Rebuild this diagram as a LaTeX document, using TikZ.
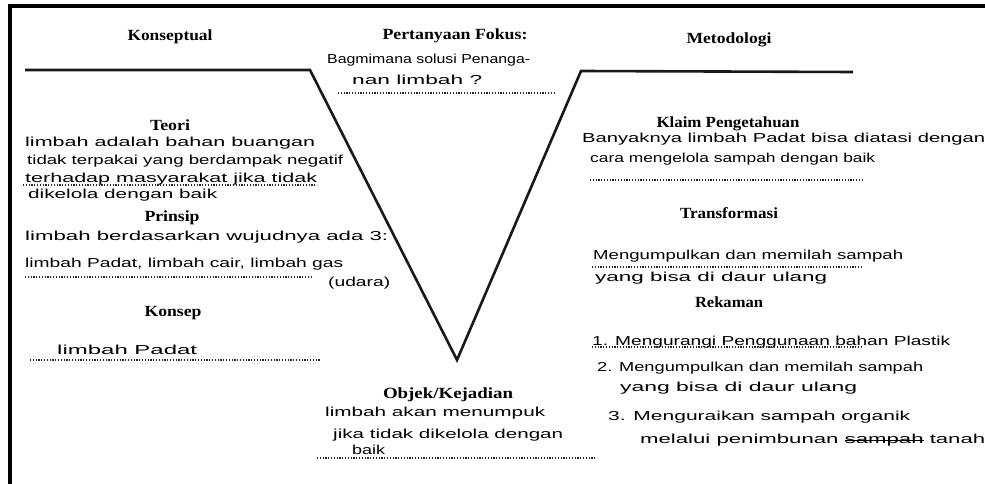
\documentclass[tikz,border=0pt]{standalone}
\usepackage{fontspec}
\usepackage{graphicx}
\setmainfont{Liberation Serif}
\newfontfamily\handfont{Liberation Sans}
% a handwritten line, stretched to a given width
\newcommand\hw[2]{\resizebox{#1pt}{\height}{\handfont\fontsize{13}{15}\selectfont #2}}
% a bold heading, stretched to a given width
\newcommand\hd[2]{\resizebox{#1pt}{\height}{\bfseries\fontsize{15.5}{17}\selectfont #2}}
% a crossed-out word
\newsavebox\strikebox
\newcommand\crossout[1]{\sbox\strikebox{#1}\rlap{\raisebox{0.3ex}{\rule{\wd\strikebox}{0.9pt}}}\usebox\strikebox}
\begin{document}
\begin{tikzpicture}[x=1pt,y=-1pt,
  heading/.style={inner sep=0pt,anchor=center},
  handline/.style={inner sep=0pt,anchor=west},
  dots/.style={line width=1.6pt,dash pattern=on 1.2pt off 1.6pt,black!85},
  vline/.style={line width=2.6pt,line join=miter,black!90}]
\useasboundingbox (0,0) rectangle (985,484);
\fill[white] (0,0) rectangle (985,484);
% frame
\draw[line width=4pt] (10,484) -- (10,6) -- (985,6);

% V outline
\coordinate (vl) at (25,70);
\coordinate (vlc) at (310,70);
\coordinate (vb) at (457,360);
\coordinate (vrc) at (581,71);
\coordinate (vr) at (853,72);
\draw[vline] (vl) -- (vlc) -- (vb) -- (vrc) -- (vr);

% top headings
\node[heading] (konseptual) at (170,37) {\hd{85}{Konseptual}};
\node[heading] (fokus) at (455,36) {\hd{145}{Pertanyaan Fokus:}};
\node[heading] (metodologi) at (729,40) {\hd{85}{Metodologi}};

% focus question
\node[handline] (fq1) at (327,60) {\hw{203}{Bagmimana solusi Penanga-}};
\node[handline] (fq2) at (352,80) {\hw{130}{nan limbah ?}};
\draw[dots] (338,93) -- (555,93);

% left side
\node[heading] (teori) at (170,125) {\hd{40}{Teori}};
\node[handline] (teori1) at (25,143) {\hw{290}{limbah adalah bahan buangan}};
\node[handline] (teori2) at (27,161) {\hw{316}{tidak terpakai yang berdampak negatif}};
\node[handline] (teori3) at (25,179) {\hw{292}{terhadap masyarakat jika tidak}};
\node[handline] (teori4) at (28,195) {\hw{189}{dikelola dengan baik}};
\draw[dots] (23,185) -- (317,185);

\node[heading] (prinsip) at (172,218) {\hd{55}{Prinsip}};
\node[handline] (prinsip1) at (25,237) {\hw{363}{limbah berdasarkan wujudnya ada 3:}};
\node[handline] (prinsip2) at (25,264) {\hw{318}{limbah Padat, limbah cair, limbah gas}};
\node[handline] (udara) at (328,283) {\hw{62}{(udara)}};
\draw[dots] (25,277) -- (312,277);

\node[heading] (konsep) at (173,313) {\hd{57}{Konsep}};
\node[handline] (konsep1) at (57,350) {\hw{140}{limbah Padat}};
\draw[dots] (30,360) -- (320,360);

% bottom of the V
\node[heading] (objek) at (448,395) {\hd{130}{Objek/Kejadian}};
\node[handline] (objek1) at (325,413) {\hw{220}{limbah akan menumpuk}};
\node[handline] (objek2) at (333,435) {\hw{230}{jika tidak dikelola dengan}};
\node[handline] (objek3) at (352,450) {\hw{33}{baik}};
\draw[dots] (317,458) -- (597,458);

% right side
\node[heading] (klaim) at (728,124) {\hd{143}{Klaim Pengetahuan}};
\node[handline] (klaim1) at (582,139) {\hw{403}{Banyaknya limbah Padat bisa diatasi dengan}};
\node[handline] (klaim2) at (590,159) {\hw{285}{cara mengelola sampah dengan baik}};
\draw[dots] (590,180) -- (862,180);

\node[heading] (transformasi) at (729,213) {\hd{98}{Transformasi}};
\node[handline] (trans1) at (593,256) {\hw{310}{Mengumpulkan dan memilah sampah}};
\node[handline] (trans2) at (595,278) {\hw{232}{yang bisa di daur ulang}};
\draw[dots] (592,267) -- (862,267);

\node[heading] (rekaman) at (729,302) {\hd{68}{Rekaman}};
\node[handline] (rek1) at (592,342) {\hw{358}{1. Mengurangi Penggunaan bahan Plastik}};
\draw[dots] (592,347) -- (863,347);
\node[handline] (rek2) at (597,368) {\hw{326}{2. Mengumpulkan dan memilah sampah}};
\node[handline] (rek3) at (620,388) {\hw{237}{yang bisa di daur ulang}};
\node[handline] (rek4) at (608,417) {\hw{302}{3. Menguraikan sampah organik}};
\node[handline] (rek5) at (640,440) {\hw{345}{melalui penimbunan \crossout{sampah} tanah}};
\end{tikzpicture}
\end{document}
